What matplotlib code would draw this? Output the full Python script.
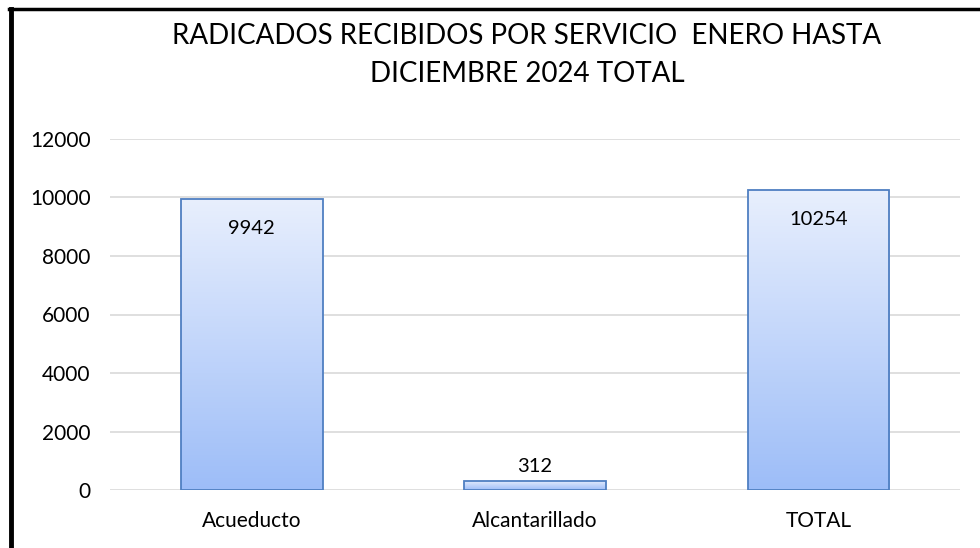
import matplotlib
matplotlib.use("Agg")
import matplotlib.pyplot as plt
import numpy as np
from matplotlib.colors import LinearSegmentedColormap
from matplotlib.lines import Line2D

categories = ["Acueducto", "Alcantarillado", "TOTAL"]
values = [9942, 312, 10254]
yticks = [0, 2000, 4000, 6000, 8000, 10000, 12000]
title = "RADICADOS RECIBIDOS POR SERVICIO  ENERO HASTA\nDICIEMBRE 2024 TOTAL"

plt.rcParams['font.family'] = ['Lato', 'DejaVu Sans']

fig = plt.figure(figsize=(9.8, 5.48), dpi=100)
ax = fig.add_axes([110/980, 1-490/548, 850/980, (490-139)/548])

x = np.arange(len(categories))
bars = ax.bar(x, values, width=0.5, color='none', edgecolor='#4f7fc2', linewidth=1.3, zorder=3)

cmap = LinearSegmentedColormap.from_list('g', ['#9dbdf8', '#e8effd'])
grad = np.linspace(0, 1, 256).reshape(-1, 1)
for b in bars:
    x0, w, h = b.get_x(), b.get_width(), b.get_height()
    im = ax.imshow(grad, cmap=cmap, aspect='auto', origin='lower',
                   extent=[x0, x0 + w, 0, h], zorder=2)
    im.set_clip_path(b)

ax.set_xlim(-0.5, len(categories) - 0.5)
ax.set_ylim(0, 12000)
ax.set_yticks(yticks)
ax.set_yticklabels([str(t) for t in yticks], fontsize=15)
ax.set_xticks(x)
ax.set_xticklabels(categories, fontsize=15)
ax.tick_params(axis='both', length=0)
ax.tick_params(axis='y', pad=14)
ax.tick_params(axis='x', pad=15)
ax.grid(axis='y', color='#d9d9d9', linewidth=1.2, zorder=0)
for s in ax.spines.values():
    s.set_visible(False)

for xi, v in zip(x, values):
    if v > 2000:
        ax.annotate(str(v), (xi, v), xytext=(0, -21), textcoords='offset points',
                    ha='center', va='center', fontsize=14.5, zorder=4)
    else:
        ax.annotate(str(v), (xi, v), xytext=(0, 10), textcoords='offset points',
                    ha='center', va='center', fontsize=14.5, zorder=4)

fig.text(527/980, 1-55/548, title, ha='center', va='center', fontsize=20, linespacing=1.55)

# figure border (left and top)
fig.add_artist(Line2D([11/980, 11/980], [0, 1-9/548], transform=fig.transFigure, color='black', linewidth=3.5))
fig.add_artist(Line2D([9/980, 1], [1-9/548, 1-9/548], transform=fig.transFigure, color='black', linewidth=2.5))

fig.savefig("out.png", dpi=100)
